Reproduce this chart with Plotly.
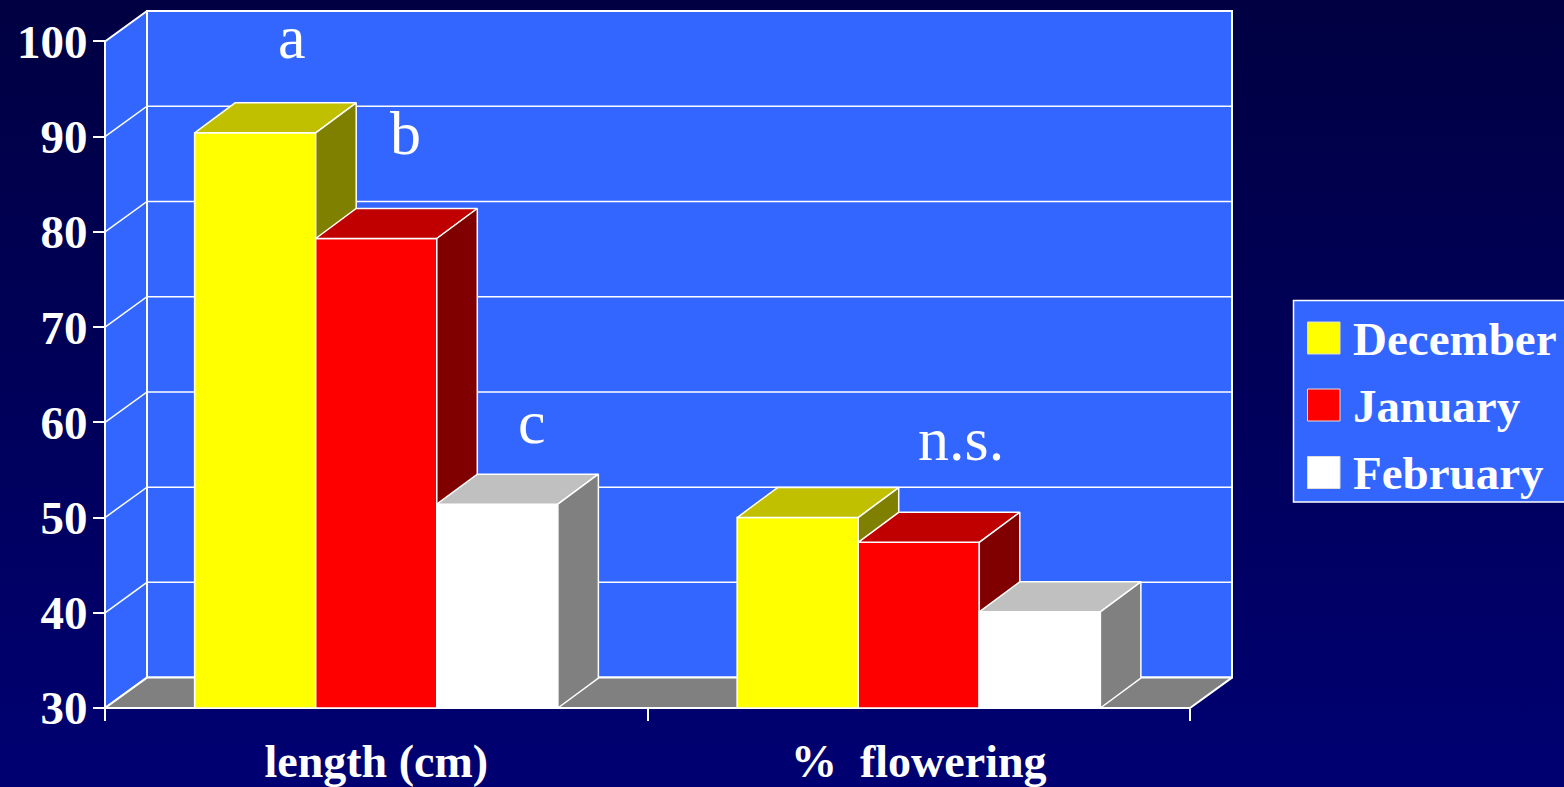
import base64
import plotly.graph_objects as go

# ---- data -------------------------------------------------------------
categories = ["length (cm)", "%  flowering"]
months = ["December", "January", "February"]
december = [90.4, 50.0]
january = [79.3, 47.4]
february = [51.4, 40.1]
series = [december, january, february]

# significance letters: one per bar for length, one for the whole flowering group
length_letters = ["a", "b", "c"]
flowering_letter = "n.s."

y_ticks = [30, 40, 50, 60, 70, 80, 90, 100]
Y_BASE, Y_TOP = 30, 100

# ---- styling ------------------------------------------------------------
FONT = "Liberation Serif, Times New Roman, serif"
WALL = "#3366FF"
FLOOR = "#808080"
FACE_COLORS = {  # front, top, side
    "December": ("#FFFF00", "#C0C000", "#808000"),
    "January": ("#FF0000", "#C00000", "#800000"),
    "February": ("#FFFFFF", "#C0C0C0", "#808080"),
}

W, H = 1564, 787
PX_X = 542.5        # pixels per category unit
PX_Y = 9.523        # pixels per value unit
X0_PX, Y0_PX = 105, 708   # pixel position of the front-bottom-left corner

# plotting frame (pixels) slightly larger than the drawn box so edge lines are not clipped
FRAME_L, FRAME_R, FRAME_T, FRAME_B = 100, 1240, 5, 712
x_min = -(X0_PX - FRAME_L) / PX_X
x_max = x_min + (FRAME_R - FRAME_L) / PX_X
y_min = Y_BASE - (FRAME_B - Y0_PX) / PX_Y
y_max = y_min + (FRAME_B - FRAME_T) / PX_Y

# depth offsets for the pseudo-3D walls and bars (axis units)
DXW, DYW = 42 / PX_X, 30.4 / PX_Y
DXB, DYB = 40.5 / PX_X, 30 / PX_Y
BAR_W = 0.2232
N_CAT = len(categories)

fig = go.Figure()


def poly(xs, ys, fill, width=2.0, color="white"):
    fig.add_trace(go.Scatter(
        x=list(xs) + [xs[0]], y=list(ys) + [ys[0]], mode="lines",
        fill="toself", fillcolor=fill,
        line=dict(color=color, width=width),
        hoverinfo="skip", showlegend=False))


def line(xs, ys, width=2.0):
    fig.add_trace(go.Scatter(
        x=xs, y=ys, mode="lines", line=dict(color="white", width=width),
        hoverinfo="skip", showlegend=False))


# back wall
poly([DXW, N_CAT + DXW, N_CAT + DXW, DXW],
     [Y_BASE + DYW, Y_BASE + DYW, Y_TOP + DYW, Y_TOP + DYW], WALL)
# left side wall
poly([0, DXW, DXW, 0],
     [Y_BASE, Y_BASE + DYW, Y_TOP + DYW, Y_TOP], WALL)
# gridlines running along the side wall and the back wall
for v in y_ticks[1:-1]:
    line([0, DXW, N_CAT + DXW], [v, v + DYW, v + DYW], width=1.5)
# floor
poly([0, N_CAT, N_CAT + DXW, DXW],
     [Y_BASE, Y_BASE, Y_BASE + DYW, Y_BASE + DYW], FLOOR)

# bars, drawn left to right so that each bar hides the side of the previous one
bar_centers = {}
for ci in range(N_CAT):
    center = ci + 0.5
    for mi, (name, vals) in enumerate(zip(months, series)):
        v = vals[ci]
        x0 = center - 1.5 * BAR_W + mi * BAR_W
        x1 = x0 + BAR_W
        front, top, side = FACE_COLORS[name]
        poly([x0, x1, x1, x0], [Y_BASE, Y_BASE, v, v], front, width=1.5)
        poly([x0, x1, x1 + DXB, x0 + DXB], [v, v, v + DYB, v + DYB], top, width=1.5)
        poly([x1, x1 + DXB, x1 + DXB, x1], [Y_BASE, Y_BASE + DYB, v + DYB, v], side, width=1.5)
        bar_centers[(ci, mi)] = (x0 + x1) / 2

# significance letters above the bars
annotations = []
letter_offsets = [(0.068, 10.1), (0.053, 11.1), (0.063, 8.6)]
for mi, (txt, (dx, dy)) in enumerate(zip(length_letters, letter_offsets)):
    annotations.append(dict(
        x=bar_centers[(0, mi)] + dx, y=series[mi][0] + dy, xref="x", yref="y",
        text=txt, showarrow=False, xanchor="center", yanchor="middle",
        font=dict(family=FONT, size=62, color="white")))
annotations.append(dict(
    x=1.5 + 0.078, y=max(s[1] for s in series) + 8.25, xref="x", yref="y",
    text=flowering_letter, showarrow=False, xanchor="center", yanchor="middle",
    font=dict(family=FONT, size=62, color="white")))

# legend box drawn in figure pixels
shapes = []


def px_x(p):
    return p / W


def px_y(p):
    return 1 - p / H


shapes.append(dict(type="rect", xref="paper", yref="paper",
                   x0=px_x(1293.5), x1=px_x(1575), y0=px_y(502), y1=px_y(300.5),
                   fillcolor=WALL, line=dict(color="white", width=1.5)))
row_tops = [322, 389, 456.5]
for name, top in zip(months, row_tops):
    shapes.append(dict(type="rect", xref="paper", yref="paper",
                       x0=px_x(1307.5), x1=px_x(1340), y0=px_y(top + 32), y1=px_y(top),
                       fillcolor=FACE_COLORS[name][0],
                       line=dict(color="#DDDDDD", width=1)))
    annotations.append(dict(
        x=px_x(1351), y=px_y(top + 16.5), xref="paper", yref="paper",
        text=name, showarrow=False, xanchor="left", yanchor="middle",
        font=dict(family=FONT, size=47, color="white", weight="bold")))

# dark blue vertical gradient behind everything
grad_svg = (
    "<svg xmlns='http://www.w3.org/2000/svg' width='10' height='100' viewBox='0 0 10 100' "
    "preserveAspectRatio='none'><defs><linearGradient id='g' x1='0' y1='0' x2='0' y2='1'>"
    "<stop offset='0' stop-color='#000042'/><stop offset='1' stop-color='#000072'/>"
    "</linearGradient></defs><rect width='10' height='100' fill='url(#g)'/></svg>")
grad_uri = "data:image/svg+xml;base64," + base64.b64encode(grad_svg.encode()).decode()

fig.update_layout(
    width=W, height=H,
    margin=dict(l=0, r=0, t=0, b=0, pad=0, autoexpand=False),
    paper_bgcolor="#000070",
    plot_bgcolor="rgba(0,0,0,0)",
    showlegend=False,
    images=[dict(source=grad_uri, xref="paper", yref="paper", x=0, y=1,
                 sizex=1, sizey=1, xanchor="left", yanchor="top",
                 sizing="stretch", layer="below")],
    xaxis=dict(
        domain=[FRAME_L / W, FRAME_R / W], range=[x_min, x_max],
        anchor="free", position=1 - Y0_PX / H,
        tickmode="array", tickvals=[i + 0.5 for i in range(N_CAT)],
        ticktext=categories,
        ticks="outside", ticklen=12, tickcolor="rgba(0,0,0,0)",
        ticklabelstandoff=1,
        tickfont=dict(family=FONT, size=46, color="white", weight="bold"),
        minor=dict(tickmode="array", tickvals=list(range(N_CAT + 1)),
                   ticks="outside", ticklen=12, tickwidth=2, tickcolor="white",
                   showgrid=False),
        showgrid=False, zeroline=False, showline=False, fixedrange=True,
        automargin=False),
    yaxis=dict(
        domain=[1 - FRAME_B / H, 1 - FRAME_T / H], range=[y_min, y_max],
        anchor="free", position=X0_PX / W,
        tickmode="array", tickvals=y_ticks,
        ticks="outside", ticklen=12, tickwidth=2, tickcolor="white",
        ticklabelstandoff=-4,
        tickfont=dict(family=FONT, size=47, color="white", weight="bold"),
        showgrid=False, zeroline=False, showline=False, fixedrange=True,
        automargin=False),
    shapes=shapes,
    annotations=annotations,
)

fig.write_html("out.html")
